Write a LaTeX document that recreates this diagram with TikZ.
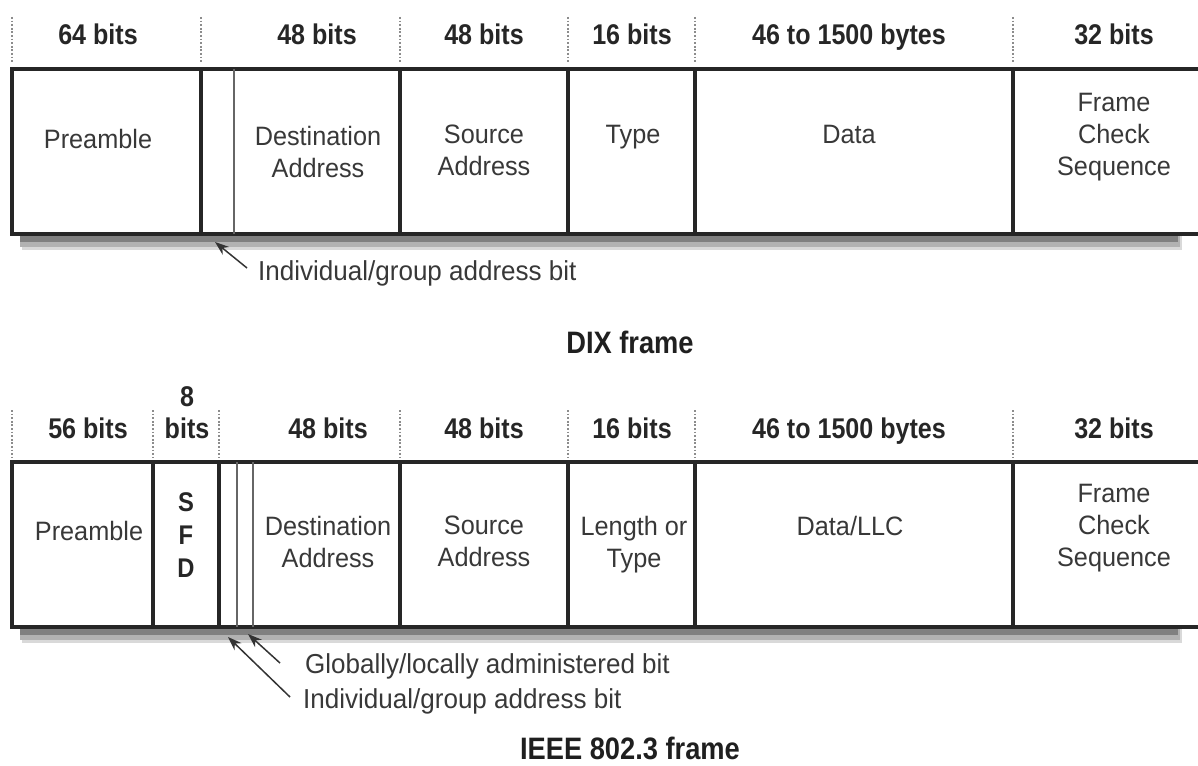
\documentclass[tikz,border=0pt]{standalone}
\usepackage{fontspec}
\newfontfamily\cf[FakeStretch=0.88]{Liberation Sans}
\newfontfamily\cg[FakeStretch=0.95]{Liberation Sans}
\usetikzlibrary{arrows.meta}
\begin{document}
\begin{tikzpicture}[x=1pt,y=-1pt,
  hdr/.style={font=\cf\bfseries\fontsize{28.5}{32}\selectfont, text=black!85, anchor=base, inner sep=0pt},
  fld/.style={font=\cg\fontsize{26.6}{32}\selectfont, text=black!78, align=center, anchor=north, inner sep=0pt},
  sfd/.style={font=\cf\bfseries\fontsize{27}{33}\selectfont, text=black!85, align=center, anchor=north, inner sep=0pt},
  note/.style={font=\cg\fontsize{27.4}{30}\selectfont, text=black!78, anchor=base west, inner sep=0pt},
  ttl/.style={font=\cf\bfseries\fontsize{31}{34}\selectfont, text=black!88, anchor=base, inner sep=0pt},
  framebox/.style={line width=3.1pt, draw=black!85},
  bitline/.style={line width=1.3pt, draw=black!60},
  guide/.style={line width=1.8pt, draw=black!45, dash pattern=on 1.8pt off 1.8pt},
  ptr/.style={-{Stealth[length=14pt,width=10pt]}, line width=1.5pt, draw=black!80},
]
\useasboundingbox (0,0) rectangle (1198,765);

% ================= DIX frame =================
% shadow
\fill[black!15] (22,234) rectangle (1182,250);
\fill[black!30] (20,234) rectangle (1180,247);
\fill[black!50] (20,234) rectangle (1178,242);
% dotted guides
\foreach \x in {12,201,400,568,695,1013}
  \draw[guide] (\x,17) -- (\x,63);
% box
\draw[framebox] (1205,69) -- (12,69) -- (12,234) -- (1205,234);
\foreach \x in {201,400,568,695,1013}
  \draw[framebox] (\x,69) -- (\x,234);
\draw[bitline] (234,69) -- (234,234);
% headers
\node[hdr] (h1) at (98,45) {64 bits};
\node[hdr] (h2) at (317,45) {48 bits};
\node[hdr] (h3) at (484,45) {48 bits};
\node[hdr] (h4) at (632,45) {16 bits};
\node[hdr] (h5) at (849,45) {46 to 1500 bytes};
\node[hdr] (h6) at (1114,45) {32 bits};
% fields
\node[fld] (pre) at (98,129) {Preamble};
\node[fld] (dst) at (318,126) {Destination\\Address};
\node[fld] (src) at (484,125) {Source\\Address};
\node[fld] (typ) at (633,125) {Type};
\node[fld] (dat) at (849,125) {Data};
\node[fld] (fcs) at (1114,93) {Frame\\Check\\Sequence};
% note
\node[note] (ig) at (258,280) {Individual/group address bit};
\coordinate (igTip) at (215,242);
\coordinate (igTail) at (247,268);
\draw[ptr] (igTail) -- (igTip);
% title
\node[ttl] (dix) at (630,353) {DIX frame};

% ================= IEEE 802.3 frame =================
\fill[black!15] (22,627) rectangle (1182,643);
\fill[black!30] (20,627) rectangle (1180,640);
\fill[black!50] (20,627) rectangle (1178,635);
\foreach \x in {12,153,219,400,568,695,1013}
  \draw[guide] (\x,410) -- (\x,457);
\draw[framebox] (1205,462) -- (12,462) -- (12,627) -- (1205,627);
\foreach \x in {153,219,400,568,695,1013}
  \draw[framebox] (\x,462) -- (\x,627);
\draw[bitline] (237,462) -- (237,627);
\draw[bitline] (253,462) -- (253,627);
% headers
\node[hdr] (k8) at (187,406) {8};
\node[hdr] (k1) at (88,438) {56 bits};
\node[hdr] (k2) at (187,438) {bits};
\node[hdr] (k3) at (328,438) {48 bits};
\node[hdr] (k4) at (484,438) {48 bits};
\node[hdr] (k5) at (632,438) {16 bits};
\node[hdr] (k6) at (849,438) {46 to 1500 bytes};
\node[hdr] (k7) at (1114,438) {32 bits};
% fields
\node[fld] (pre2) at (89,521) {Preamble};
\node[sfd] (sfd2) at (186,492) {S\\F\\D};
\node[fld] (dst2) at (328,516) {Destination\\Address};
\node[fld] (src2) at (484,516) {Source\\Address};
\node[fld] (len2) at (634,516) {Length or\\Type};
\node[fld] (dat2) at (850,516) {Data/LLC};
\node[fld] (fcs2) at (1114,484) {Frame\\Check\\Sequence};
% notes
\node[note] (gl) at (305,673) {Globally/locally administered bit};
\node[note] (ig2) at (303,708) {Individual/group address bit};
\coordinate (glTip) at (248,634);
\coordinate (glTail) at (280,663);
\coordinate (ig2Tip) at (228,637);
\coordinate (ig2Tail) at (290,697);
\draw[ptr] (glTail) -- (glTip);
\draw[ptr] (ig2Tail) -- (ig2Tip);
% title
\node[ttl] (ieee) at (630,759) {IEEE 802.3 frame};
\end{tikzpicture}
\end{document}
